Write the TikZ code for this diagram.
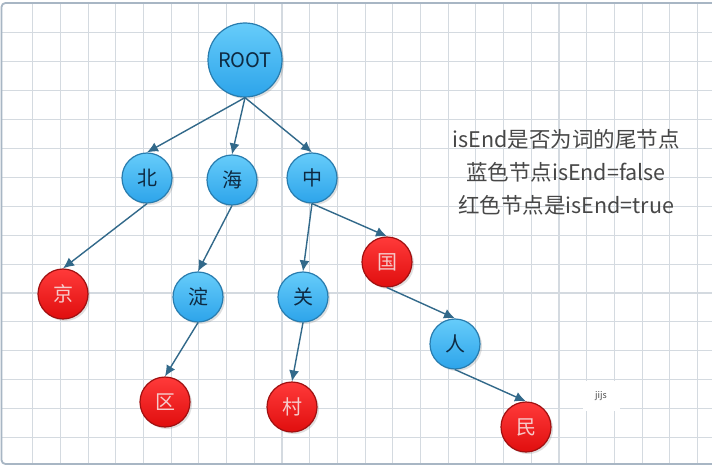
\documentclass[tikz,border=0pt]{standalone}
\usepackage{fontspec}
\setmainfont{Noto Sans CJK SC}
\newfontfamily\cjk{Noto Sans CJK SC}
\usetikzlibrary{arrows.meta,shadows}
\definecolor{gridc}{HTML}{D4DAE0}
\definecolor{framec}{HTML}{A8B6C4}
\definecolor{btop}{HTML}{66CCFA}
\definecolor{bbot}{HTML}{2DA4EA}
\definecolor{bborder}{HTML}{287CAE}
\definecolor{btext}{HTML}{0E2A42}
\definecolor{rtop}{HTML}{FF3A3A}
\definecolor{rbot}{HTML}{E00E0E}
\definecolor{rborder}{HTML}{A01010}
\definecolor{rtext}{HTML}{F6CACA}
\definecolor{edgec}{HTML}{32698A}
\definecolor{notec}{HTML}{474747}
\tikzset{
  basenode/.style={circle, inner sep=0pt, line width=1.2pt,
    drop shadow={shadow xshift=2pt, shadow yshift=-2pt, opacity=0.25}},
  bnode/.style={basenode, minimum size=50pt, draw=bborder, top color=btop, bottom color=bbot,
    text=btext, font=\cjk\fontsize{20}{20}\selectfont},
  rnode/.style={basenode, minimum size=50pt, draw=rborder, top color=rtop, bottom color=rbot,
    text=rtext, font=\cjk\fontsize{20}{20}\selectfont},
  rootnode/.style={bnode, minimum size=74pt, font=\cjk\fontsize{20}{20}\selectfont},
  link/.style={draw=edgec, line width=1.4pt, -{Latex[length=11pt,width=10pt]}},
  gridline/.style={draw=gridc, line width=1.1pt},
}
\begin{document}
\begin{tikzpicture}[x=1pt,y=-1pt]
\useasboundingbox (0,0) rectangle (712,468);
\fill[white] (0,0) rectangle (712,468);
% grid
\foreach \i in {1,...,25} \draw[gridline] ({5+27.7*\i},3) -- ({5+27.7*\i},464);
\foreach \k in {1,...,15} \draw[gridline] (1,{4+28.9*\k}) -- (712,{4+28.9*\k});
% frame
\draw[framec, line width=1.8pt, rounded corners=4pt] (1.5,3) rectangle (730,464);
% nodes
\node[rootnode] (root) at (245,60) {ROOT};
\node[bnode] (bei) at (147,178) {北};
\node[bnode] (hai) at (232,180) {海};
\node[bnode] (zhong) at (312,178) {中};
\node[rnode] (jing) at (63,294) {京};
\node[bnode] (dian) at (198,297) {淀};
\node[bnode] (guan) at (303,297) {关};
\node[rnode] (guo) at (387,262) {国};
\node[rnode] (qu) at (165,402) {区};
\node[rnode] (cun) at (292,407) {村};
\node[bnode] (ren) at (455,344) {人};
\node[rnode] (min) at (526,427) {民};
% edges
\draw[link] (root.south) -- (bei.north);
\draw[link] (root.south) -- (hai.north);
\draw[link] (root.south) -- (zhong.north);
\draw[link] (bei.south) -- (jing.north);
\draw[link] (hai.south) -- (dian.north);
\draw[link] (dian.south) -- (qu.north);
\draw[link] (zhong.south) -- (guan.north);
\draw[link] (zhong.south) -- (guo.north);
\draw[link] (guan.south) -- (cun.north);
\draw[link] (guo.south) -- (ren.north);
\draw[link] (ren.south) -- (min.north);
% note
\node[text=notec, align=center, font=\cjk\fontsize{21.5}{33}\selectfont] (note) at (566,172)
  {isEnd是否为词的尾节点\\蓝色节点isEnd=false\\红色节点是isEnd=true};
\node[fill=white, text=notec, minimum width=37pt, minimum height=30pt, inner sep=0pt,
  font=\cjk\fontsize{9}{9}\selectfont] (jijs) at (601,396) {jijs};
\end{tikzpicture}
\end{document}
